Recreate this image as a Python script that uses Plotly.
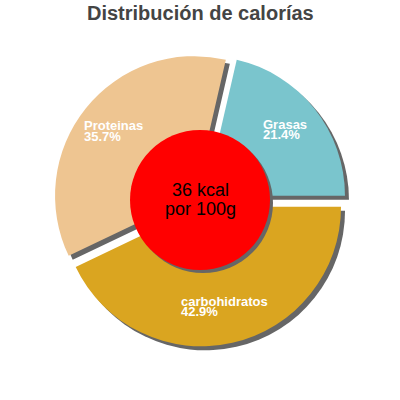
import plotly.graph_objects as go

# calorie split (percent of total energy)
labels = ["Grasas", "Proteinas", "carbohidratos"]
values = [21.4, 35.7, 42.9]
kcal_text = ["36 kcal", "por 100g"]
title_text = "Distribución de calorías"

sliceColors = ["#7AC5CD", "#EEC591", "#DAA520"]
shadowColor = "#666666"
W, H = 400, 400

pull = 0.05
R = 139.5
half = R * (1 + pull)
cx, cy = 200, 200


def px_dom(cx, cy):
    # pixel centre -> paper domain
    return dict(x=[(cx - half) / W, (cx + half) / W],
                y=[1 - (cy + half) / H, 1 - (cy - half) / H])


# plotly lays slices clockwise from 3 o'clock here, so feed them reversed
revLabels = labels[::-1]
revValues = values[::-1]
revColors = sliceColors[::-1]

fig = go.Figure()

# shadow pie, a few pixels down-right
fig.add_trace(go.Pie(
    labels=revLabels, values=revValues, sort=False,
    direction="clockwise", rotation=90,
    pull=[pull] * len(values),
    marker=dict(colors=[shadowColor] * len(values), line=dict(width=0)),
    textinfo="none", hoverinfo="skip", showlegend=False,
    domain=px_dom(cx + 4, cy + 4),
))

fig.add_trace(go.Pie(
    labels=revLabels, values=revValues, sort=False,
    direction="clockwise", rotation=90,
    pull=[pull] * len(values),
    marker=dict(colors=revColors, line=dict(width=0)),
    textinfo="none", hoverinfo="skip", showlegend=False,
    domain=px_dom(cx, cy),
))

# label positions in pixels: left x, middle of name line, middle of pct line
labelPos = {
    "Proteinas": (82, 125, 136.5),
    "Grasas": (261, 124.5, 134.5),
    "carbohidratos": (179, 301, 311.5),
}

annots = []
for lab, val in zip(labels, values):
    lx, ny, py = labelPos[lab]
    for txt, yy in ((lab, ny), ("%.1f%%" % val, py)):
        annots.append(dict(
            text=txt, x=lx / W, y=1 - yy / H, xref="paper", yref="paper",
            xanchor="left", yanchor="middle", showarrow=False,
            font=dict(family="Liberation Sans", size=13, color="white",
                      weight="bold"),
        ))

for txt, yy in zip(kcal_text, [190, 209]):
    annots.append(dict(
        text=txt, x=0.5, y=1 - yy / H, xref="paper", yref="paper",
        xanchor="center", yanchor="middle", showarrow=False,
        font=dict(family="Liberation Sans", size=18, color="black"),
    ))

annots.append(dict(
    text=title_text, x=0.5, y=1.0, xref="paper", yref="paper",
    xanchor="center", yanchor="top", showarrow=False,
    font=dict(family="Liberation Sans", size=20, color="#444444",
              weight="bold"),
))

rc = 70
shapes = []
for off, col in ((3, shadowColor), (0, "#FF0000")):
    shapes.append(dict(
        type="circle", xref="paper", yref="paper",
        x0=(cx - rc + off) / W, x1=(cx + rc + off) / W,
        y0=1 - (cy + rc + off) / H, y1=1 - (cy - rc + off) / H,
        fillcolor=col, line=dict(width=0), layer="above",
    ))

fig.update_layout(
    width=W, height=H,
    margin=dict(l=0, r=0, t=0, b=0),
    paper_bgcolor="white", plot_bgcolor="white",
    annotations=annots, shapes=shapes,
)

# drop the browser's default 8px body margin so the figure sits at 0,0
fig.write_html("out.html",
               config={"displayModeBar": False},
               post_script="document.body.style.margin='0';")
